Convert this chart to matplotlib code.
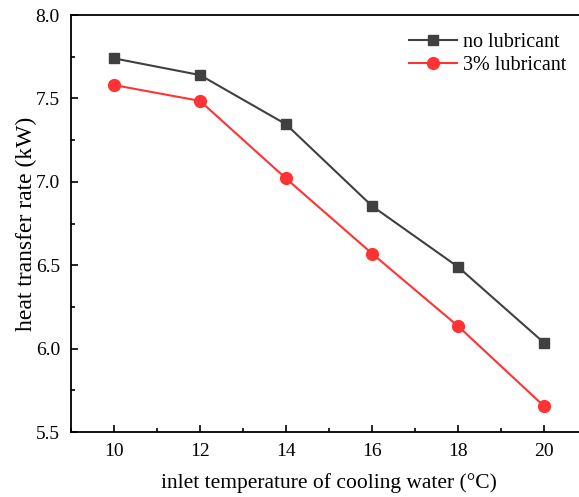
import matplotlib

matplotlib.use("Agg")
import matplotlib.pyplot as plt
from matplotlib.ticker import MultipleLocator

# inlet temperature of cooling water (°C)
temps = [10, 12, 14, 16, 18, 20]
# heat transfer rate (kW)
no_lub = [7.74, 7.64, 7.345, 6.855, 6.49, 6.035]
lub_3 = [7.58, 7.485, 7.02, 6.57, 6.135, 5.655]

plt.rcParams["font.family"] = ["Liberation Serif", "DejaVu Serif"]

fig = plt.figure(figsize=(5.79, 4.97), dpi=100)
# right edge runs slightly past the figure, as in the reference crop
ax = fig.add_axes([71 / 579, 1 - 432 / 497, (587 - 71) / 579, (432 - 15) / 497])

ax.plot(temps, no_lub, color="#404040", marker="s", markersize=7.5,
        linewidth=1.5, label="no lubricant")
ax.plot(temps, lub_3, color="#ff3333", marker="o", markersize=8.5,
        linewidth=1.5, label="3% lubricant")

ax.set_xlim(9, 21)
ax.set_ylim(5.5, 8.0)
ax.xaxis.set_major_locator(MultipleLocator(2))
ax.xaxis.set_minor_locator(MultipleLocator(1))
ax.yaxis.set_major_locator(MultipleLocator(0.5))
ax.yaxis.set_minor_locator(MultipleLocator(0.25))
ax.yaxis.set_major_formatter(matplotlib.ticker.FormatStrFormatter("%.1f"))
ax.tick_params(which="both", direction="in", top=False, right=False,
               labelsize=14, width=1.2, pad=8)
ax.tick_params(which="major", length=5)
ax.tick_params(which="minor", length=3)
for s in ax.spines.values():
    s.set_linewidth(1.3)

ax.set_xlabel("inlet temperature of cooling water (\u00b0C)", fontsize=15.5,
              labelpad=9)
ax.set_ylabel("heat transfer rate (kW)", fontsize=17, labelpad=-1)

ax.legend(loc="upper left", bbox_to_anchor=(0.62, 1.0), frameon=False,
          fontsize=14.5, handlelength=2.4, handletextpad=0.3,
          labelspacing=0.2)

fig.savefig("out.png", dpi=100)
